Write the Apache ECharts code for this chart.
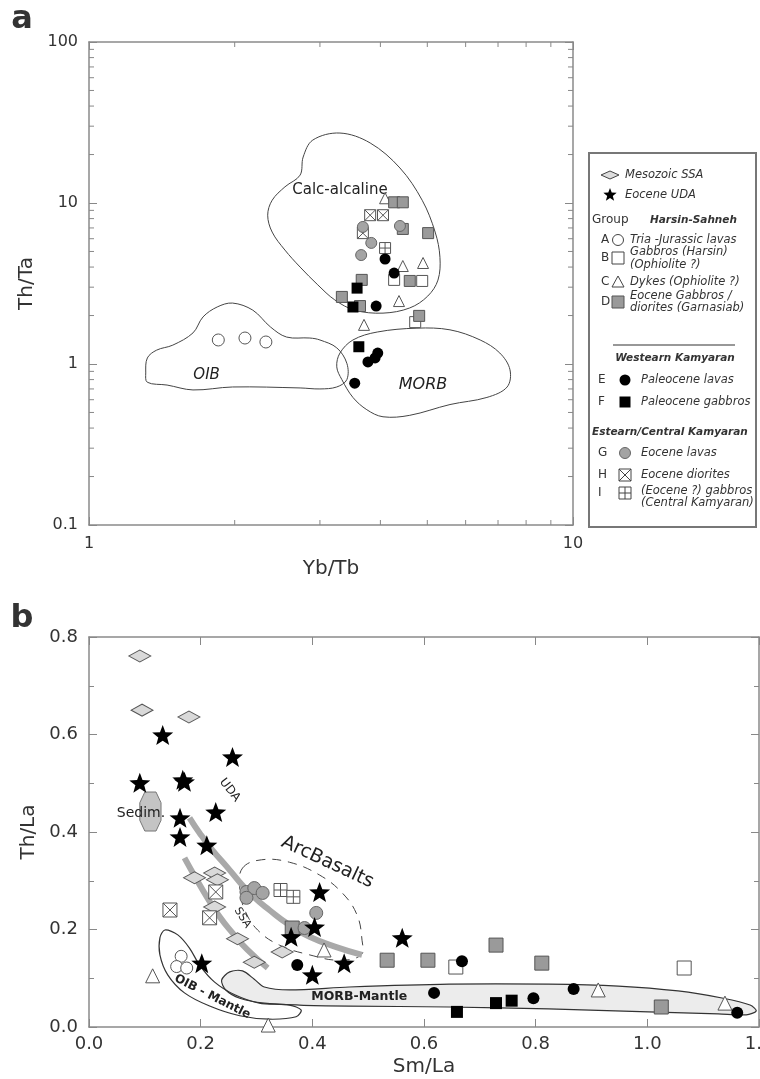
<!DOCTYPE html>
<html><head><meta charset="utf-8">
<script src="https://cdn.jsdelivr.net/npm/echarts/dist/echarts.min.js"></script>
<style>html,body{margin:0;padding:0;background:#fff}#c{width:760px;height:1079px}</style>
</head><body><div id="c"></div>
<script>
// ---------- Panel a : Yb/Tb vs Th/Ta (log-log) ----------
const aA = [[1.85,1.41],[2.10,1.45],[2.32,1.37]];
const aB = [[4.27,3.33],[4.88,3.28],[4.72,1.82]];
const aC = [[4.09,10.7],[4.45,4.06],[4.90,4.24],[4.37,2.46],[3.70,1.75]];
const aD = [[4.27,10.1],[4.45,10.1],[5.02,6.5],[4.45,6.9],[3.66,3.33],[4.60,3.28],[3.33,2.61],[3.63,2.29],[4.81,1.99]];
const aE = [[4.09,4.49],[4.27,3.67],[3.92,2.29],[3.95,1.17],[3.90,1.09],[3.77,1.03],[3.54,0.76]];
const aF = [[3.58,2.96],[3.51,2.26],[3.61,1.28]];
const aG = [[3.68,7.1],[3.83,5.65],[3.65,4.75],[4.39,7.2]];
const aH = [[3.81,8.4],[4.05,8.4],[3.68,6.5]];
const aI = [[4.09,5.25]];
const aCalc = [[3.30,27.2],[3.81,23.6],[4.39,16.5],[4.88,10.4],[5.19,6.6],[5.31,4.6],[5.26,3.32],[5.01,2.64],[4.60,2.23],[4.05,2.07],[3.54,2.16],[3.22,2.50],[2.97,3.10],[2.73,4.0],[2.54,5.1],[2.39,6.6],[2.34,8.4],[2.39,10.4],[2.54,12.6],[2.73,14.9],[2.77,19.3],[2.90,24.6]];
const aOIB = [[1.31,0.88],[1.32,1.09],[1.38,1.22],[1.49,1.31],[1.64,1.56],[1.72,1.96],[1.84,2.26],[1.98,2.39],[2.18,2.16],[2.37,1.70],[2.56,1.47],[2.86,1.45],[3.00,1.41],[3.25,1.26],[3.41,1.01],[3.41,0.80],[3.25,0.72],[3.00,0.70],[2.73,0.71],[1.98,0.72],[1.64,0.69],[1.45,0.74],[1.32,0.77]];
const aMORB = [[3.25,0.96],[3.30,1.17],[3.51,1.41],[3.94,1.58],[4.76,1.67],[5.57,1.63],[6.43,1.41],[7.06,1.17],[7.41,0.92],[7.31,0.72],[6.64,0.62],[5.57,0.56],[4.60,0.48],[4.05,0.47],[3.75,0.52],[3.51,0.62],[3.33,0.80]];
const aMinorX = [2,3,4,5,6,7,8,9];
const aMinorY = [0.2,0.3,0.4,0.5,0.6,0.7,0.8,0.9,2,3,4,5,6,7,8,9,20,30,40,50,60,70,80,90];
const aLabels = [{t:'Calc-alcaline', at:[3.30,12.0]},{t:'OIB', at:[1.75,0.855]},{t:'MORB', at:[4.90,0.741]}];

// ---------- Panel b : Sm/La vs Th/La ----------
const bSSA = [[0.091,0.761],[0.095,0.650],[0.179,0.636],[0.189,0.306],[0.225,0.316],[0.230,0.302],[0.225,0.246],[0.266,0.181],[0.296,0.133],[0.346,0.154]];
const bUDA = [[0.132,0.599],[0.257,0.554],[0.091,0.501],[0.168,0.507],[0.171,0.503],[0.227,0.441],[0.163,0.429],[0.163,0.390],[0.211,0.373],[0.202,0.131],[0.413,0.277],[0.404,0.205],[0.362,0.185],[0.457,0.131],[0.400,0.107],[0.561,0.183]];
const bA = [[0.165,0.145],[0.157,0.124],[0.175,0.121]];
const bB = [[0.657,0.123],[1.066,0.121]];
const bC = [[0.912,0.076],[1.139,0.049],[0.421,0.158],[0.321,0.004],[0.114,0.105]];
const bD = [[0.364,0.203],[0.534,0.137],[0.607,0.137],[0.729,0.168],[0.811,0.131],[1.025,0.041]];
const bE = [[0.668,0.135],[0.618,0.070],[0.868,0.078],[0.796,0.059],[1.161,0.029],[0.373,0.127]];
const bF = [[0.659,0.031],[0.729,0.049],[0.757,0.054]];
const bG = [[0.407,0.234],[0.282,0.277],[0.296,0.285],[0.311,0.275],[0.282,0.265],[0.386,0.203]];
const bH = [[0.145,0.240],[0.216,0.224],[0.227,0.277]];
const bI = [[0.343,0.281],[0.366,0.267]];
const bTrendUDA = [[0.180,0.429],[0.198,0.398],[0.221,0.363],[0.246,0.330],[0.270,0.297],[0.293,0.269],[0.323,0.240],[0.359,0.209],[0.395,0.185],[0.443,0.164],[0.489,0.148]];
const bTrendSSA = [[0.171,0.347],[0.193,0.302],[0.211,0.267],[0.234,0.226],[0.257,0.193],[0.284,0.158],[0.320,0.121]];
const bArc = [[0.275,0.326],[0.309,0.343],[0.359,0.338],[0.4125,0.312],[0.4536,0.275],[0.480,0.230],[0.489,0.178],[0.4875,0.148],[0.448,0.137],[0.395,0.148],[0.341,0.168],[0.302,0.199],[0.279,0.240],[0.270,0.285]];
const bSedim = [[0.100,0.482],[0.120,0.482],[0.129,0.460],[0.129,0.424],[0.120,0.402],[0.100,0.402],[0.091,0.424],[0.091,0.460]];
const bMORBM = [[0.2375,0.096],[0.252,0.113],[0.275,0.115],[0.296,0.098],[0.314,0.082],[0.359,0.076],[0.466,0.082],[0.645,0.088],[0.823,0.088],[0.948,0.084],[1.055,0.074],[1.136,0.059],[1.184,0.045],[1.195,0.033],[1.177,0.025],[1.127,0.027],[1.002,0.031],[0.823,0.037],[0.645,0.041],[0.466,0.043],[0.377,0.045],[0.314,0.049],[0.270,0.059],[0.245,0.076]];
const bOIBM = [[0.136,0.199],[0.159,0.189],[0.180,0.162],[0.198,0.127],[0.225,0.092],[0.261,0.066],[0.305,0.049],[0.359,0.045],[0.380,0.035],[0.371,0.021],[0.323,0.016],[0.270,0.023],[0.216,0.043],[0.171,0.070],[0.141,0.107],[0.127,0.148],[0.127,0.183]];
const bLabels = [{t:'Sedim.', at:[0.093,0.439]},{t:'UDA', at:[0.252,0.486]},{t:'ArcBasalts', at:[0.427,0.338]},{t:'SSA', at:[0.275,0.224]},{t:'OIB - Mantle', at:[0.221,0.062]},{t:'MORB-Mantle', at:[0.484,0.062]}];

// ---------- styles ----------
const FF = '"DejaVu Sans", sans-serif';
const labelStyle = {
  'Calc-alcaline': {font:'15px '+FF, rot:0},
  'OIB': {font:'italic 15px '+FF, rot:0},
  'MORB': {font:'italic 16px '+FF, rot:0},
  'Sedim.': {font:'14px '+FF, rot:0},
  'UDA': {font:'12px '+FF, rot:-52},
  'ArcBasalts': {font:'19px '+FF, rot:-25},
  'SSA': {font:'11px '+FF, rot:-58},
  'OIB - Mantle': {font:'bold 12px '+FF, rot:-27},
  'MORB-Mantle': {font:'bold 12.5px '+FF, rot:0}
};
function starPts(cx,cy,R,ri){const p=[];for(let i=0;i<10;i++){const r=i%2?R*ri:R;const a=-Math.PI/2+i*Math.PI/5;p.push([cx+r*Math.cos(a),cy+r*Math.sin(a)]);}return p;}
const STAR = 'path://M' + starPts(50,52,50,0.42).map(p=>p[0].toFixed(1)+','+p[1].toFixed(1)).join('L') + 'Z';
const XSQ = 'path://M0,0L10,0L10,10L0,10Z M0,0L10,10 M10,0L0,10';
const GSQ = 'path://M0,0L10,0L10,10L0,10Z M5,0L5,10 M0,5L10,5';
const sOpen = {color:'#fff', borderColor:'#555', borderWidth:1, opacity:1};
const sGrayD = {color:'#9a9a9a', borderColor:'#555', borderWidth:1, opacity:1};
const sBlack = {color:'#000', opacity:1};
const sGrayG = {color:'#a4a4a4', borderColor:'#666', borderWidth:1, opacity:1};
const sDia = {color:'#d9d9d9', borderColor:'#555', borderWidth:1, opacity:1};
const sStar = {color:'#000', opacity:1};

function sc(data, symbol, size, style, g){
  return {type:'scatter', data, symbol, symbolSize:size, xAxisIndex:g*2, yAxisIndex:g*2, itemStyle:style, z:5, silent:true};
}
function region(pts, g, style, smooth){
  return {type:'custom', coordinateSystem:'cartesian2d', xAxisIndex:g*2, yAxisIndex:g*2, data:[pts[0]], silent:true, z:1,
    renderItem:(params, api)=>({type:'polygon', shape:{points:pts.map(p=>api.coord(p)), smooth:smooth}, style:Object.assign({}, style)})};
}
function labels(items, g){
  return {type:'custom', coordinateSystem:'cartesian2d', xAxisIndex:g*2, yAxisIndex:g*2, data:items.map(o=>o.at), silent:true, z:4,
    renderItem:(params, api)=>{const o=items[params.dataIndex]; const st=labelStyle[o.t]; const c=api.coord(o.at);
      return {type:'text', x:c[0], y:c[1], rotation:st.rot*Math.PI/180, style:{text:o.t, font:st.font, fill:'#222', textAlign:'center', textVerticalAlign:'middle'}};}};
}
function minorTicks(vals, dir){
  return {type:'custom', coordinateSystem:'cartesian2d', xAxisIndex:0, yAxisIndex:0, silent:true, z:3,
    data: vals.map(v=> dir==='x' ? [v,1] : [1,v]),
    renderItem:(params, api)=>{const cs=params.coordSys; const st={stroke:'#888', lineWidth:1};
      if(dir==='x'){const x=api.coord([api.value(0),1])[0];
        return {type:'group', children:[{type:'line', shape:{x1:x,y1:cs.y+cs.height,x2:x,y2:cs.y+cs.height-5}, style:st},{type:'line', shape:{x1:x,y1:cs.y,x2:x,y2:cs.y+5}, style:st}]};}
      const y=api.coord([1,api.value(1)])[1];
      return {type:'group', children:[{type:'line', shape:{x1:cs.x,y1:y,x2:cs.x+5,y2:y}, style:st},{type:'line', shape:{x1:cs.x+cs.width,y1:y,x2:cs.x+cs.width-5,y2:y}, style:st}]};}};
}

const axLine = {show:true, onZero:false, lineStyle:{color:'#8a8a8a', width:1.5}};
const tick = {show:true, inside:true, length:8, lineStyle:{color:'#888', width:1}};
const noLab = {show:false};
const fmtLog = v => String(+(+v).toPrecision(3));
const fmt1 = v => (+v).toFixed(1);
const nameSt = {fontSize:20, color:'#333', fontFamily:FF};

const option = {
  animation:false,
  grid:[{left:89, top:42, width:484, height:483, outerBoundsMode:'none', containLabel:false},
        {left:89, top:637, width:670, height:390, outerBoundsMode:'none', containLabel:false}],
  xAxis:[
    {gridIndex:0, type:'log', logBase:10, min:1, max:10, position:'bottom', axisLine:axLine, axisTick:tick, splitLine:{show:false},
      axisLabel:{margin:11, fontSize:16, color:'#333', fontFamily:FF, formatter:fmtLog}, name:'Yb/Tb', nameLocation:'middle', nameGap:34, nameTextStyle:nameSt},
    {gridIndex:0, type:'log', logBase:10, min:1, max:10, position:'top', axisLine:axLine, axisTick:tick, splitLine:{show:false}, axisLabel:noLab},
    {gridIndex:1, type:'value', min:0, max:1.2, interval:0.2, position:'bottom', axisLine:axLine, axisTick:tick, splitLine:{show:false},
      axisLabel:{margin:8, fontSize:18, color:'#333', fontFamily:FF, formatter:fmt1}, name:'Sm/La', nameLocation:'middle', nameGap:30, nameTextStyle:nameSt},
    {gridIndex:1, type:'value', min:0, max:1.2, interval:0.2, position:'top', axisLine:axLine, axisTick:tick, splitLine:{show:false}, axisLabel:noLab}
  ],
  yAxis:[
    {gridIndex:0, type:'log', logBase:10, min:0.1, max:100, position:'left', axisLine:axLine, axisTick:tick, splitLine:{show:false},
      axisLabel:{margin:11, fontSize:16, color:'#333', fontFamily:FF, formatter:fmtLog}, name:'Th/Ta', nameLocation:'middle', nameGap:47, nameTextStyle:nameSt},
    {gridIndex:0, type:'log', logBase:10, min:0.1, max:100, position:'right', axisLine:axLine, axisTick:tick, splitLine:{show:false}, axisLabel:noLab},
    {gridIndex:1, type:'value', min:0, max:0.8, interval:0.2, position:'left', axisLine:axLine, axisTick:tick, splitLine:{show:false},
      minorTick:{show:true, splitNumber:2, length:5, lineStyle:{color:'#888'}}, minorSplitLine:{show:false},
      axisLabel:{margin:11, fontSize:18, color:'#333', fontFamily:FF, formatter:fmt1}, name:'Th/La', nameLocation:'middle', nameGap:50, nameTextStyle:nameSt},
    {gridIndex:1, type:'value', min:0, max:0.8, interval:0.2, position:'right', axisLine:axLine, axisTick:tick, splitLine:{show:false},
      minorTick:{show:true, splitNumber:2, length:5, lineStyle:{color:'#888'}}, minorSplitLine:{show:false}, axisLabel:noLab}
  ],
  series:[
    region(aCalc, 0, {fill:'none', stroke:'#444', lineWidth:1}, 0.35),
    region(aOIB, 0, {fill:'none', stroke:'#444', lineWidth:1}, 0.35),
    region(aMORB, 0, {fill:'none', stroke:'#444', lineWidth:1}, 0.35),
    minorTicks(aMinorX, 'x'), minorTicks(aMinorY, 'y'),
    labels(aLabels, 0),
    sc(aA, 'circle', 12, sOpen, 0),
    sc(aB, 'rect', 11, sOpen, 0),
    sc(aC, 'triangle', 11, sOpen, 0),
    sc(aD, 'rect', 11, sGrayD, 0),
    sc(aH, XSQ, 11, sOpen, 0),
    sc(aI, GSQ, 11, sOpen, 0),
    sc(aG, 'circle', 11, sGrayG, 0),
    sc(aE, 'circle', 11, sBlack, 0),
    sc(aF, 'rect', 11, sBlack, 0),

    region(bMORBM, 1, {fill:'#ececec', stroke:'#333', lineWidth:1.2}, 0.3),
    region(bOIBM, 1, {fill:'none', stroke:'#333', lineWidth:1.2}, 0.3),
    region(bSedim, 1, {fill:'#c4c4c4', stroke:'#777', lineWidth:1}, 0),
    region(bArc, 1, {fill:'none', stroke:'#444', lineWidth:1, lineDash:[9,7]}, 0.4),
    {type:'line', data:bTrendUDA, xAxisIndex:2, yAxisIndex:2, smooth:true, symbol:'none', lineStyle:{color:'#a9a9a9', width:6}, z:2, silent:true},
    {type:'line', data:bTrendSSA, xAxisIndex:2, yAxisIndex:2, smooth:true, symbol:'none', lineStyle:{color:'#a9a9a9', width:6}, z:2, silent:true},
    labels(bLabels, 1),
    sc(bSSA, 'diamond', [22,12], sDia, 1),
    sc(bH, XSQ, 14, sOpen, 1),
    sc(bI, GSQ, 13, sOpen, 1),
    sc(bA, 'circle', 12, sOpen, 1),
    sc(bB, 'rect', 14, sOpen, 1),
    sc(bC, 'triangle', 14, sOpen, 1),
    sc(bD, 'rect', 14, sGrayD, 1),
    sc(bG, 'circle', 13, sGrayG, 1),
    sc(bE, 'circle', 12, sBlack, 1),
    sc(bF, 'rect', 12, sBlack, 1),
    sc(bUDA, STAR, [21,20], sStar, 1)
  ]
};

// ---------- legend box & panel letters (graphic) ----------
const G = [];
const T = (x,y,text,font,align)=>G.push({type:'text', x, y, z:20, style:{text, font, fill:'#333', textAlign:align||'left', textVerticalAlign:'middle'}});
const ln = {stroke:'#444', lineWidth:1};
G.push({type:'rect', z:19, shape:{x:589, y:153, width:167, height:374}, style:{fill:'#fff', stroke:'#777', lineWidth:2}});
const it = 'italic 11.5px '+FF, bi = 'italic bold 10.5px '+FF, rg = '12px '+FF;
G.push({type:'polygon', z:20, shape:{points:[[601,175],[610,171],[619,175],[610,179]]}, style:{fill:'#ddd', stroke:'#444', lineWidth:1}});
T(625,175,'Mesozoic SSA',it);
G.push({type:'polygon', z:20, shape:{points:starPts(610,195,7,0.42)}, style:{fill:'#000'}});
T(625,195,'Eocene UDA',it);
T(592,220,'Group',rg); T(650,220,'Harsin-Sahneh',bi);
T(601,240,'A',rg); G.push({type:'circle', z:20, shape:{cx:618, cy:240, r:5.5}, style:{fill:'#fff', stroke:'#444', lineWidth:1}}); T(630,240,'Tria -Jurassic lavas',it);
T(601,258,'B',rg); G.push({type:'rect', z:20, shape:{x:612, y:252, width:12, height:12}, style:{fill:'#fff', stroke:'#444', lineWidth:1}}); T(630,252,'Gabbros (Harsin)',it); T(630,265,'(Ophiolite ?)',it);
T(601,282,'C',rg); G.push({type:'polygon', z:20, shape:{points:[[612,287],[624,287],[618,276]]}, style:{fill:'#fff', stroke:'#444', lineWidth:1}}); T(630,282,'Dykes (Ophiolite ?)',it);
T(601,302,'D',rg); G.push({type:'rect', z:20, shape:{x:612, y:296, width:12, height:12}, style:{fill:'#9a9a9a', stroke:'#555', lineWidth:1}}); T(630,296,'Eocene Gabbros /',it); T(630,308,'diorites (Garnasiab)',it);
G.push({type:'line', z:20, shape:{x1:613, y1:345, x2:735, y2:345}, style:{stroke:'#333', lineWidth:1.2}});
T(675,358,'Westearn Kamyaran',bi,'center');
T(598,380,'E',rg); G.push({type:'circle', z:20, shape:{cx:625, cy:380, r:5.5}, style:{fill:'#000'}}); T(641,380,'Paleocene lavas',it);
T(598,402,'F',rg); G.push({type:'rect', z:20, shape:{x:619.5, y:396.5, width:11, height:11}, style:{fill:'#000'}}); T(641,402,'Paleocene gabbros',it);
T(592,432,'Estearn/Central Kamyaran',bi);
T(598,453,'G',rg); G.push({type:'circle', z:20, shape:{cx:625, cy:453, r:5.5}, style:{fill:'#a4a4a4', stroke:'#666', lineWidth:1}}); T(641,453,'Eocene lavas',it);
T(598,475,'H',rg); G.push({type:'rect', z:20, shape:{x:619, y:469, width:12, height:12}, style:{fill:'#fff', stroke:'#444', lineWidth:1}});
G.push({type:'line', z:21, shape:{x1:619,y1:469,x2:631,y2:481}, style:ln}); G.push({type:'line', z:21, shape:{x1:631,y1:469,x2:619,y2:481}, style:ln});
T(641,475,'Eocene diorites',it);
T(598,493,'I',rg); G.push({type:'rect', z:20, shape:{x:619, y:487, width:12, height:12}, style:{fill:'#fff', stroke:'#444', lineWidth:1}});
G.push({type:'line', z:21, shape:{x1:625,y1:487,x2:625,y2:499}, style:ln}); G.push({type:'line', z:21, shape:{x1:619,y1:493,x2:631,y2:493}, style:ln});
T(641,491,'(Eocene ?) gabbros',it); T(641,503,'(Central Kamyaran)',it);
T(22,20,'a','bold 32px '+FF,'center');
T(22,619,'b','bold 32px '+FF,'center');
option.graphic = G;

const chart = echarts.init(document.getElementById('c'), null, {renderer:'canvas'});
chart.setOption(option);
</script></body></html>
